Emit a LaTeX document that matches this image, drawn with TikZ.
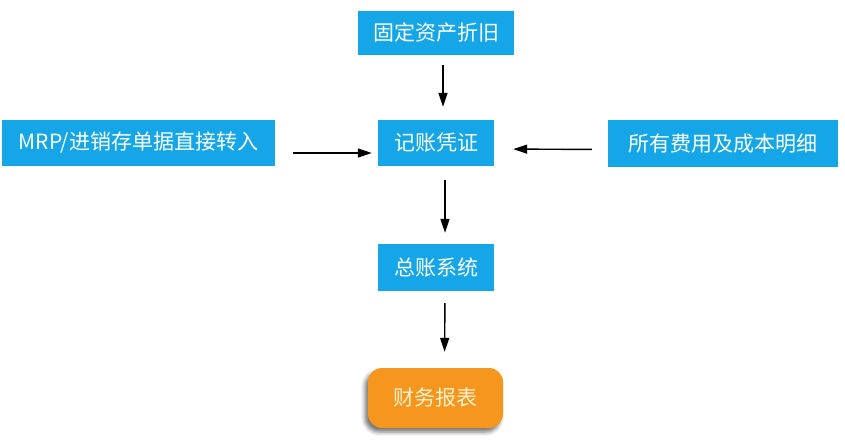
\documentclass[tikz,border=0pt]{standalone}
\usepackage{fontspec}
\setmainfont{Noto Sans CJK SC}
\usetikzlibrary{arrows.meta,shadows.blur}
\definecolor{boxblue}{RGB}{20,166,230}
\definecolor{boxorange}{RGB}{245,150,30}
\definecolor{cream}{RGB}{255,242,205}
\tikzset{
  bluebox/.style={fill=boxblue, text=white, inner sep=0pt, font=\fontsize{21}{25}\selectfont},
  orangebox/.style={fill=boxorange, text=cream, inner sep=0pt, rounded corners=14pt,
     font=\fontsize{21}{25}\selectfont,
     blur shadow={shadow xshift=-3pt, shadow yshift=-4pt, shadow blur radius=4pt, shadow opacity=55}},
  flow/.style={line width=1.4pt, -{Triangle[length=14pt,width=9pt]}}
}
\begin{document}
\begin{tikzpicture}[x=1pt,y=-1pt]
\useasboundingbox (0,0) rectangle (845,442);
\node[bluebox, minimum width=156pt, minimum height=44pt] (fixed) at (436,33) {固定资产折旧};
\node[bluebox, minimum width=116pt, minimum height=46pt] (voucher) at (436,143) {记账凭证};
\node[bluebox, minimum width=273pt, minimum height=46pt] (mrp) at (138.5,143) {MRP/进销存单据直接转入};
\node[bluebox, minimum width=230pt, minimum height=47pt] (cost) at (723,143.5) {所有费用及成本明细};
\node[bluebox, minimum width=116pt, minimum height=47pt] (ledger) at (436,267.5) {总账系统};
\node[orangebox, minimum width=135pt, minimum height=60pt] (report) at (435.5,398) {财务报表};
\draw[flow, shorten <=10pt, shorten >=13pt] ([xshift=7pt]fixed.south) -- ([xshift=7pt]voucher.north);
\draw[flow, shorten <=14pt, shorten >=11pt] ([xshift=9pt]voucher.south) -- ([xshift=9pt]ledger.north);
\draw[flow, shorten <=12pt, shorten >=16pt] ([xshift=9pt]ledger.south) -- ([xshift=9pt]report.north);
\draw[flow, shorten <=18pt, shorten >=6pt] ([yshift=-10pt]mrp.east) -- ([yshift=-10pt]voucher.west);
\draw[flow, shorten <=16pt, shorten >=19pt] ([yshift=-6pt]cost.west) -- ([yshift=-6pt]voucher.east);
\end{tikzpicture}
\end{document}
